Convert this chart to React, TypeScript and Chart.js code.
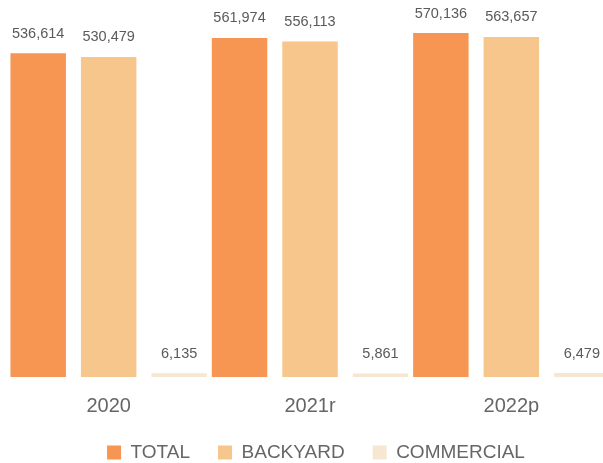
import React, { useEffect, useRef } from "react";
import { Chart, registerables } from "chart.js";

Chart.register(...registerables);

const categories = ["2020", "2021r", "2022p"];
const totalValues = [536614, 561974, 570136];
const backyardValues = [530479, 556113, 563657];
const commercialValues = [6135, 5861, 6479];
const seriesNames = ["TOTAL", "BACKYARD", "COMMERCIAL"];

const labelPlugin = {
  id: "valueLabels",
  afterLayout(chart: any) {
    if (chart.legend) {
      chart.legend.left += 6;
      chart.legend.right += 6;
    }
  },
  afterDatasetsDraw(chart: any) {
    const ctx = chart.ctx;
    ctx.save();
    ctx.font = "14.5px 'Liberation Sans', Arial, sans-serif";
    ctx.fillStyle = "#5a5a5a";
    ctx.textAlign = "center";
    ctx.textBaseline = "middle";
    chart.data.datasets.forEach((ds: any, i: number) => {
      const meta = chart.getDatasetMeta(i);
      meta.data.forEach((el: any, j: number) => {
        const v = ds.data[j] as number;
        ctx.fillText(v.toLocaleString("en-US"), el.x, el.y - 19.5);
      });
    });
    ctx.restore();
  },
};

export default function App() {
  const ref = useRef<HTMLCanvasElement | null>(null);
  useEffect(() => {
    if (!ref.current) return;
    const chart = new Chart(ref.current, {
      type: "bar",
      data: {
        labels: categories,
        datasets: [
          { label: seriesNames[0], data: totalValues, backgroundColor: "#F79552" },
          { label: seriesNames[1], data: backyardValues, backgroundColor: "#F6C68C" },
          { label: seriesNames[2], data: commercialValues, backgroundColor: "#F7E6D1" },
        ],
      },
      options: {
        animation: false,
        responsive: false,
        maintainAspectRatio: false,
        layout: { padding: { top: 7, left: 0, right: 0, bottom: 0 } },
        datasets: {
          bar: { categoryPercentage: 1.05, barPercentage: 0.787, borderWidth: 0 },
        } as any,
        scales: {
          x: {
            grid: { display: false, drawTicks: false },
            border: { display: false },
            ticks: {
              color: "#666666",
              font: { family: "'Liberation Sans', Arial, sans-serif", size: 20 },
              padding: 17,
              maxRotation: 0,
            },
            afterFit: (scale: any) => {
              scale.height = 38;
            },
          },
          y: { display: false, min: 0, max: 600000 },
        },
        plugins: {
          legend: {
            position: "bottom",
            labels: {
              boxWidth: 14,
              boxHeight: 14,
              padding: 28,
              color: "#666666",
              font: { family: "'Liberation Sans', Arial, sans-serif", size: 19 },
            },
          },
          tooltip: { enabled: false },
        },
      },
      plugins: [labelPlugin],
    });
    return () => chart.destroy();
  }, []);
  return (
    <div
      style={{
        position: "fixed",
        left: 8,
        top: 8,
        width: 595,
        height: 455,
        overflow: "hidden",
      }}
    >
      <canvas ref={ref} width={604} height={464} style={{ display: "block", width: 604, height: 464 }} />
    </div>
  );
}
